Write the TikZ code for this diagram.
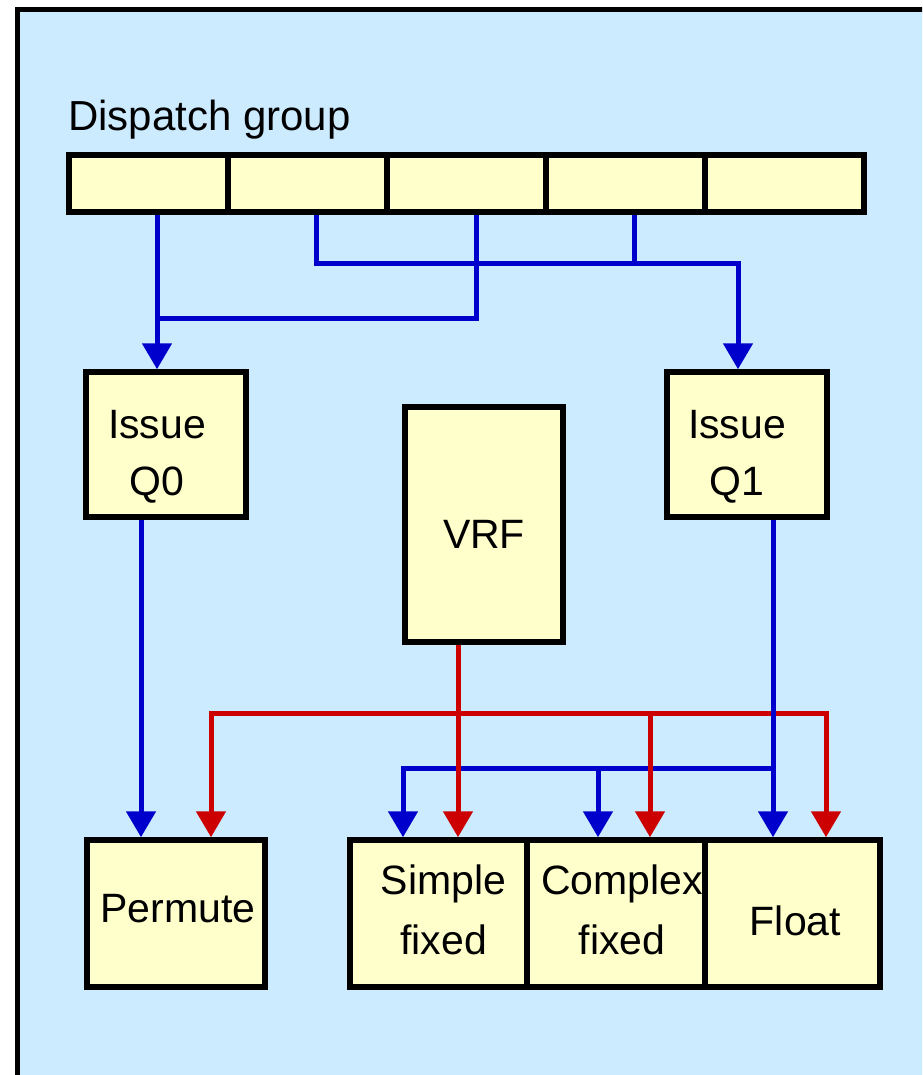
\documentclass[tikz,border=0pt]{standalone}
\usepackage{fontspec}
\setmainfont{Liberation Sans}
\usetikzlibrary{arrows.meta}
\definecolor{bgblue}{RGB}{204,235,255}
\definecolor{boxyellow}{RGB}{255,255,204}
\definecolor{wireblue}{RGB}{0,0,204}
\definecolor{wirered}{RGB}{204,0,0}
\tikzset{
  unit/.style={draw=black, line width=5.5pt, fill=boxyellow, rectangle, inner sep=0pt},
  cell/.style={unit, minimum width=159pt, minimum height=57pt},
  lbl/.style={inner sep=0pt, font=\fontsize{41}{57}\selectfont, align=center},
  lblb/.style={inner sep=0pt, font=\fontsize{41}{60}\selectfont, align=center},
  bw/.style={draw=wireblue, line width=5pt},
  rw/.style={draw=wirered, line width=5pt},
  tip/.style={-{Triangle[length=26pt,width=29pt]}}
}
\begin{document}
\begin{tikzpicture}[x=1pt,y=-1pt]
\useasboundingbox (0,0) rectangle (922,1075);
\clip (0,0) rectangle (922,1075);
\fill[white] (0,0) rectangle (922,1075);
\draw[line width=5.5pt, fill=bgblue] (17.5,9.5) rectangle (960,1120);

\node[anchor=base west, inner sep=0pt, font=\fontsize{42}{50}\selectfont] (title) at (68,131) {Dispatch group};

% dispatch cells
\node[cell] (d1) at (148.5,183.5) {};
\node[cell] (d2) at (307.5,183.5) {};
\node[cell] (d3) at (466.5,183.5) {};
\node[cell] (d4) at (625.5,183.5) {};
\node[cell] (d5) at (784.5,183.5) {};

% units
\node[unit, minimum width=160pt, minimum height=145pt] (q0) at (166,444.5) {};
\node[unit, minimum width=160pt, minimum height=145pt] (q1) at (747,444.5) {};
\node[unit, minimum width=158pt, minimum height=235pt] (vrf) at (484,524.5) {};
\node[unit, minimum width=178pt, minimum height=147pt] (perm) at (176,913.5) {};
\node[unit, minimum width=177pt, minimum height=147pt] (simp) at (438.5,913.5) {};
\node[unit, minimum width=178pt, minimum height=147pt] (comp) at (616,913.5) {};
\node[unit, minimum width=175pt, minimum height=147pt] (flt) at (792.5,913.5) {};

% unit labels
\node[lbl] (q0t) at ([xshift=-9pt,yshift=-12pt]q0.center) {Issue\\Q0};
\node[lbl] (q1t) at ([xshift=-10pt,yshift=-12pt]q1.center) {Issue\\Q1};
\node[lbl] (vrft) at ([yshift=-10pt]vrf.center) {VRF};
\node[lbl] (permt) at ([xshift=2pt,yshift=5pt]perm.center) {Permute};
\node[lblb] (simpt) at ([xshift=5pt,yshift=4pt]simp.center) {Simple\\fixed};
\node[lblb] (compt) at ([xshift=6pt,yshift=4pt]comp.center) {Complex\\fixed};
\node[lbl] (fltt) at ([xshift=3pt,yshift=-7pt]flt.center) {Float};

% junction coordinates
\coordinate (j0) at (157,318);
\coordinate (j1) at (738,263);
\coordinate (b0) at (773,768);
\coordinate (r0) at (458,713);

% red bus first
\draw[rw, tip] (r0) -| ([xshift=35pt]perm.north);
\draw[rw, tip] (r0) -| ([xshift=33.5pt]flt.north);

% blue wires: dispatch to issue queues
\draw[bw, tip] ([xshift=8.5pt]d1.south) -- ([xshift=-9pt]q0.north);
\draw[bw] ([xshift=9.5pt]d3.south) |- (j0);
\draw[bw, tip] ([xshift=8.5pt]d2.south) |- (j1) -- ([xshift=-9pt]q1.north);
\draw[bw] ([xshift=8.5pt]d4.south) -- ([xshift=8.5pt]d4.south |- j1);

% blue wires: issue queues to units
\draw[bw, tip] ([xshift=-25pt]q0.south) -- ([xshift=-35pt]perm.north);
\draw[bw, tip] ([xshift=26pt]q1.south) -- ([xshift=-19.5pt]flt.north);
\draw[bw, tip] (b0) -| ([xshift=-35.5pt]simp.north);
\draw[bw, tip] ([xshift=-18pt]comp.north |- b0) -- ([xshift=-18pt]comp.north);

% red wires on top
\draw[rw, tip] ([xshift=-26pt]vrf.south) -- ([xshift=19.5pt]simp.north);
\draw[rw, tip] ([xshift=34pt]comp.north |- r0) -- ([xshift=34pt]comp.north);
\end{tikzpicture}
\end{document}
